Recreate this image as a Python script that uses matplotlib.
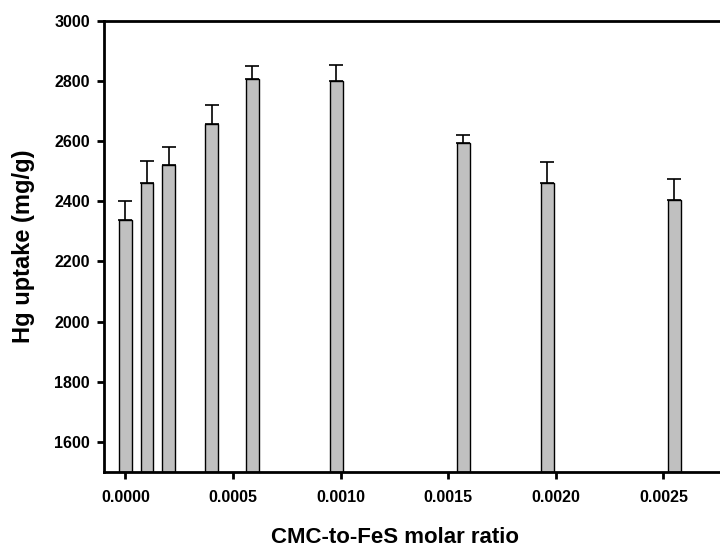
import matplotlib
matplotlib.use("Agg")
import matplotlib.pyplot as plt
from matplotlib.ticker import FormatStrFormatter, MultipleLocator

plt.rcParams['font.family'] = ['Liberation Sans', 'DejaVu Sans']
plt.rcParams['font.weight'] = 'bold'

# Data
ratio = [0.0, 0.0001, 0.0002, 0.0004, 0.00059, 0.00098, 0.00157, 0.00196, 0.00255]
uptake = [2338, 2461, 2521, 2657, 2806, 2801, 2595, 2460, 2405]
err = [63, 72, 59, 63, 44, 51, 25, 71, 68]
yticks = [1600, 1800, 2000, 2200, 2400, 2600, 2800, 3000]

fig = plt.figure(figsize=(7.2, 5.5), dpi=100)
ax = fig.add_axes([0.1444, 0.1418, 0.8556, 0.8206])

bottom = 1500
ax.bar(ratio, [u - bottom for u in uptake], bottom=bottom, width=0.00006,
       color='#c0c0c0', edgecolor='black', linewidth=1.0, zorder=2)
ax.errorbar(ratio, uptake, yerr=[[0] * len(err), err], fmt='none',
            ecolor='black', elinewidth=1.2, capsize=4.7, capthick=1.2, zorder=1)

ax.set_xlim(-0.0001, 0.002763)
ax.set_ylim(1500, 3000)
ax.xaxis.set_major_locator(MultipleLocator(0.0005))
ax.xaxis.set_major_formatter(FormatStrFormatter('%.4f'))
ax.set_yticks(yticks)

for s in ['left', 'bottom', 'top']:
    ax.spines[s].set_linewidth(2.0)
ax.spines['right'].set_visible(False)

ax.tick_params(axis='both', direction='out', length=5, width=2.0, labelsize=11.5)
ax.tick_params(axis='y', pad=5)
ax.tick_params(axis='x', pad=8)
for lab in ax.get_xticklabels() + ax.get_yticklabels():
    lab.set_fontweight('bold')

ax.set_xlabel('CMC-to-FeS molar ratio', fontsize=16, fontweight='bold')
ax.set_ylabel('Hg uptake (mg/g)', fontsize=17, fontweight='bold')
ax.xaxis.set_label_coords(0.472, -0.122)
ax.yaxis.set_label_coords(-0.112, 0.5)

fig.savefig('out.png', dpi=100)
